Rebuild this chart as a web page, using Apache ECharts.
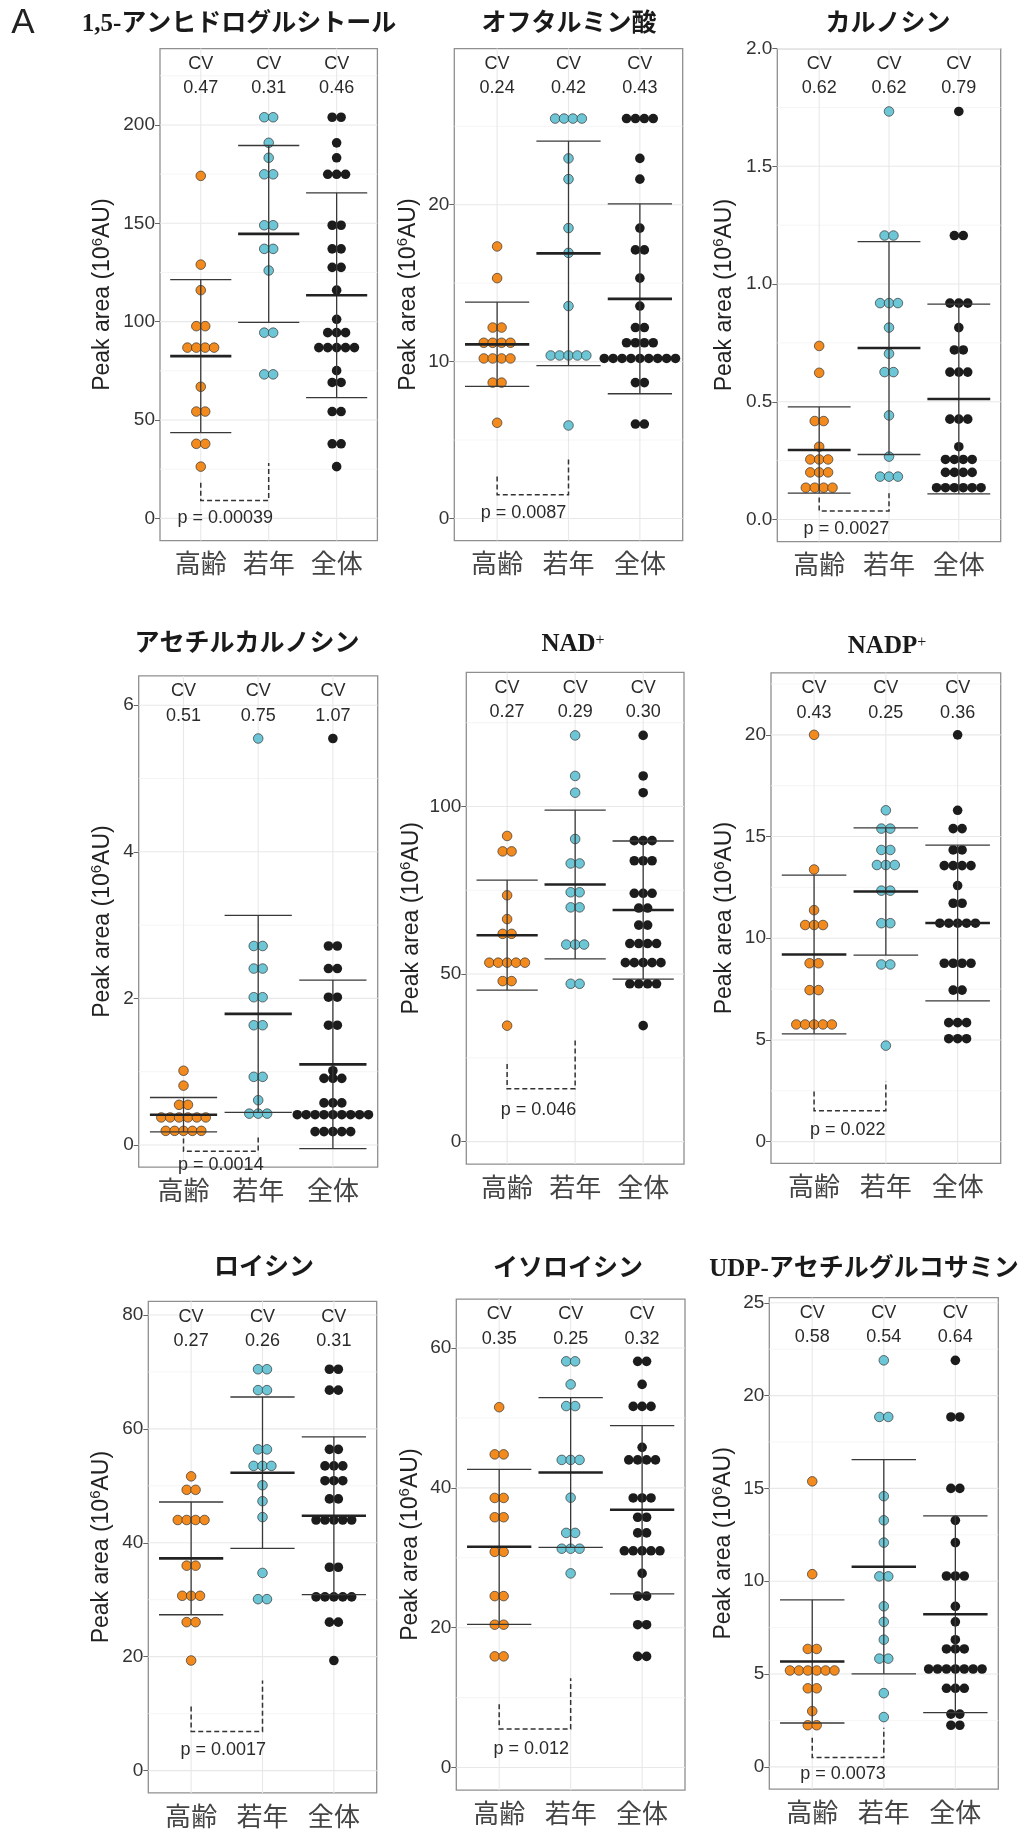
<!DOCTYPE html>
<html>
<head>
<meta charset="utf-8">
<script src="https://cdn.jsdelivr.net/npm/echarts@6.0.0/dist/echarts.min.js"></script>
<style>
  html, body { margin: 0; padding: 0; background: #fff; }
  #main { width: 1025px; height: 1833px; }
</style>
</head>
<body>
<div id="main"></div>
<script>
// 各群の名前と x 位置（ggplot の離散軸と同じ 0.6 / 1.6 / 2.6、範囲 0〜3.2）
var groups = ['高齢', '若年', '全体'];
var groupX = [0.6, 1.6, 2.6];

var titles = ['1,5-アンヒドログルシトール', 'オフタルミン酸', 'カルノシン', 'アセチルカルノシン',
  'NAD{sup|+}', 'NADP{sup|+}', 'ロイシン', 'イソロイシン', 'UDP-アセチルグルコサミン'];

// y軸の範囲と目盛り間隔
var yRange = [[-11.3, 238.8], [-1.41, 29.95], [-0.094, 2.0], [-0.303, 6.40], [-6.7, 140],
  [-1.07, 23.05], [-3.92, 82.4], [-3.24, 67.0], [-1.2, 25.28]];
var yStep = [50, 10, 0.5, 2, 50, 5, 20, 20, 5];

// ドット（値が同じものは横に並べる）
var oldDots = [
  [174.1, 129, 116, 97.7, 97.7, 86.8, 86.8, 86.8, 86.8, 66.9, 54.3, 54.3, 37.9, 37.9, 26.3],
  [17.34, 15.32, 12.17, 12.17, 11.2, 11.2, 11.2, 11.2, 10.2, 10.2, 10.2, 10.2, 8.66, 8.66, 6.1],
  [0.737, 0.623, 0.418, 0.418, 0.309, 0.255, 0.255, 0.255, 0.2, 0.2, 0.2, 0.135, 0.135, 0.135, 0.135],
  [1.013, 0.81, 0.548, 0.548, 0.376, 0.376, 0.376, 0.376, 0.376, 0.376, 0.193, 0.193, 0.193, 0.193, 0.193],
  [91.2, 86.6, 86.6, 73.5, 66.4, 62, 62, 53.4, 53.4, 53.4, 53.4, 53.4, 47.9, 47.9, 34.6],
  [20, 13.38, 11.38, 10.65, 10.65, 10.65, 8.77, 8.77, 7.45, 7.45, 5.76, 5.76, 5.76, 5.76, 5.76],
  [51.66, 49.3, 49.3, 44.0, 44.0, 44.0, 44.0, 35.98, 35.98, 30.69, 30.69, 30.69, 26.06, 26.06, 19.33],
  [51.54, 44.79, 44.79, 38.56, 38.56, 35.8, 35.8, 30.85, 30.85, 24.52, 24.52, 20.43, 20.43, 15.9, 15.9],
  [15.38, 10.38, 6.35, 6.35, 5.19, 5.19, 5.19, 5.19, 5.19, 5.19, 4.23, 4.23, 3.0, 2.24, 2.24]
];
var youngDots = [
  [203.9, 203.9, 190.9, 183.3, 174.9, 174.9, 149, 149, 137, 137, 126, 94.4, 94.4, 73.2, 73.2],
  [25.49, 25.49, 25.49, 25.49, 22.95, 21.63, 18.51, 16.93, 13.54, 10.39, 10.39, 10.39, 10.39, 10.39, 5.93],
  [1.733, 1.206, 1.206, 0.919, 0.919, 0.919, 0.815, 0.704, 0.626, 0.626, 0.442, 0.267, 0.182, 0.182, 0.182],
  [5.546, 2.715, 2.715, 2.407, 2.407, 2.016, 2.016, 1.634, 1.634, 0.93, 0.93, 0.611, 0.428, 0.428, 0.428],
  [121.2, 109.1, 104.1, 90.3, 83, 83, 74.4, 74.4, 69.9, 69.9, 58.8, 58.8, 58.8, 47.1, 47.1],
  [16.29, 15.39, 15.39, 14.34, 14.34, 13.6, 13.6, 13.6, 12.34, 12.34, 10.74, 10.74, 8.71, 8.71, 4.72],
  [70.47, 70.47, 66.8, 66.8, 56.4, 56.4, 53.5, 53.5, 53.5, 50.1, 47.3, 44.5, 34.7, 30.1, 30.1],
  [58.1, 58.1, 54.8, 51.7, 51.7, 44.0, 44.0, 44.0, 38.6, 33.56, 33.56, 31.3, 31.3, 31.3, 27.77],
  [21.9, 18.85, 18.85, 14.58, 13.28, 12.08, 10.26, 10.26, 8.65, 7.81, 6.85, 5.83, 5.83, 3.97, 2.68]
];
var allDots = [
  [203.9, 203.9, 190.9, 183.3, 174.9, 174.9, 174.9, 149, 149, 137, 137, 127.6, 127.6, 116, 101.2,
   94.4, 94.4, 94.4, 86.8, 86.8, 86.8, 86.8, 86.8, 75.1, 69.1, 69.1, 54.3, 54.3, 37.9, 37.9, 26.3],
  [25.49, 25.49, 25.49, 25.49, 22.95, 21.63, 18.51, 17.12, 17.12, 15.32, 13.54, 12.17, 12.17,
   11.2, 11.2, 11.2, 11.2, 10.2, 10.2, 10.2, 10.2, 10.2, 10.2, 10.2, 10.2, 10.2, 8.66, 8.66, 6.02, 6.02],
  [1.733, 1.206, 1.206, 0.919, 0.919, 0.919, 0.815, 0.72, 0.72, 0.626, 0.626, 0.626, 0.426, 0.426, 0.426,
   0.309, 0.255, 0.255, 0.255, 0.255, 0.2, 0.2, 0.2, 0.2, 0.135, 0.135, 0.135, 0.135, 0.135, 0.135],
  [5.546, 2.715, 2.715, 2.407, 2.407, 2.016, 2.016, 1.634, 1.634, 1.013, 0.909, 0.909, 0.909,
   0.574, 0.574, 0.574, 0.413, 0.413, 0.413, 0.413, 0.413, 0.413, 0.413, 0.413, 0.413,
   0.183, 0.183, 0.183, 0.183, 0.183],
  [121.2, 109.1, 104.1, 89.8, 89.8, 89.8, 83.8, 83.8, 83.8, 74.1, 74.1, 74.1, 69.7, 69.7, 64.6, 64.6,
   59.1, 59.1, 59.1, 59.1, 53.4, 53.4, 53.4, 53.4, 53.4, 47.1, 47.1, 47.1, 47.1, 34.6],
  [20, 16.29, 15.39, 15.39, 14.34, 14.34, 13.57, 13.57, 13.57, 13.57, 12.59, 11.72, 11.72,
   10.74, 10.74, 10.74, 10.74, 10.74, 8.77, 8.77, 8.77, 8.77, 7.45, 7.45, 5.85, 5.85, 5.85, 5.06, 5.06, 5.06],
  [70.47, 70.47, 66.8, 66.8, 56.4, 56.4, 53.5, 53.5, 53.5, 50.9, 50.9, 50.9, 47.7, 47.7,
   44.0, 44.0, 44.0, 44.0, 44.0, 35.7, 35.7, 30.5, 30.5, 30.5, 30.5, 30.5, 26.06, 26.06, 19.33],
  [58.1, 58.1, 54.8, 51.65, 51.65, 51.65, 45.8, 44.0, 44.0, 44.0, 44.0, 38.56, 38.56, 38.56, 35.8, 35.8,
   33.56, 33.56, 31.0, 31.0, 31.0, 31.0, 31.0, 27.77, 24.52, 24.52, 20.43, 20.43, 15.9, 15.9],
  [21.9, 18.85, 18.85, 15.0, 15.0, 13.28, 12.08, 10.28, 10.28, 10.28, 8.65, 7.81, 6.85, 6.35, 6.35, 6.35,
   5.27, 5.27, 5.27, 5.27, 5.27, 5.27, 5.27, 4.23, 4.23, 4.23, 2.84, 2.84, 2.24, 2.24]
];

// 平均と標準偏差（高齢, 若年, 全体）
var means = [[82.5, 144.6, 113.4], [11.1, 16.9, 14.0], [0.295, 0.728, 0.512], [0.413, 1.789, 1.10],
  [61.6, 76.7, 69.1], [9.2, 12.3, 10.75], [37.26, 52.3, 44.75], [31.57, 42.2, 36.87], [5.675, 10.78, 8.22]];
var sds = [[38.9, 44.95, 52.05], [2.685, 7.155, 6.05], [0.183, 0.452, 0.403], [0.235, 1.345, 1.15],
  [16.4, 22.2, 20.6], [3.9, 3.13, 3.83], [9.9, 13.3, 13.85], [11.09, 10.7, 12.03], [3.315, 5.77, 5.3]];
var cvs = [[0.47, 0.31, 0.46], [0.24, 0.42, 0.43], [0.62, 0.62, 0.79], [0.51, 0.75, 1.07], [0.27, 0.29, 0.30],
  [0.43, 0.25, 0.36], [0.27, 0.26, 0.31], [0.35, 0.25, 0.32], [0.58, 0.54, 0.64]];
var pValues = ['0.00039', '0.0087', '0.0027', '0.0014', '0.046', '0.022', '0.0017', '0.012', '0.0073'];
// 検定の括弧（左の上端, 底, 右の上端）
var brackets = [[18.1, 9.1, 28.2], [2.68, 1.51, 3.9], [0.093, 0.036, 0.112], [0.089, -0.084, 0.104],
  [23.2, 15.8, 30.9], [2.46, 1.52, 2.97], [11.23, 6.86, 15.8], [9.04, 5.53, 12.77], [1.56, 0.5, 2.1]];

// ---- レイアウト ----
var gridBox = [[160, 48.6, 217.4, 492], [454.3, 48.6, 228.4, 492], [777.3, 48.6, 223.4, 493],
  [138.7, 675.9, 239, 491.3], [466.3, 672.4, 217.7, 491.7], [771, 672.8, 229.7, 490.6],
  [148.3, 1301.3, 228.4, 491.6], [456.3, 1299.1, 228.7, 491.1], [769.3, 1297.6, 229, 491.5]];
var nameGap = [44, 33, 40, 23, 42, 33, 34, 33, 33];
var titlePos = [[239, 25], [569, 25], [888, 25], [247, 645], [573, 645], [887, 647],
  [264, 1269], [568, 1270], [864, 1270]];
var pTextPos = [[0.36, 0.0], [0.37, 0.37], [0.39, -0.042], [0.50, -0.277], [0.46, 9.5],
  [0.47, 0.56], [0.45, 3.6], [0.45, 2.6], [0.43, -0.4]];

var SANS = '"Liberation Sans", Arial, sans-serif';
var CJK = '"Noto Sans CJK JP", sans-serif';
var SERIF = '"Liberation Serif", "Noto Sans CJK JP", serif';
var colors = ['#F28A1E', '#6CC6D6', '#1c1c1c'];
var DOT = 9.6, DOT_STEP = 8.9;

function tickValues(i) {
  var r = yRange[i], st = yStep[i], out = [];
  for (var k = Math.ceil(r[0] / st - 1e-9); k * st <= r[1] + 1e-9; k++) out.push(+(k * st).toFixed(6));
  return out;
}

function dotItems(vals, x) {
  var counts = {}, order = [], out = [];
  vals.forEach(function (v) {
    if (!(v in counts)) { counts[v] = 0; order.push(v); }
    counts[v]++;
  });
  order.forEach(function (v) {
    var n = counts[v];
    for (var j = 0; j < n; j++) out.push({ value: [x, v], symbolOffset: [(j - (n - 1) / 2) * DOT_STEP, 0] });
  });
  return out;
}

var chart = echarts.init(document.getElementById('main'), null, { renderer: 'canvas' });
var grids = [], xAxes = [], yAxes = [], series = [], graphics = [];

for (let i = 0; i < 9; i++) {
  var g = gridBox[i];
  grids.push({ left: g[0], top: g[1], width: g[2], height: g[3], show: true,
    borderColor: '#8f8f8f', borderWidth: 1.3, backgroundColor: 'transparent' });

  xAxes.push({
    gridIndex: i, type: 'value', min: 0, max: 3.2,
    axisLine: { show: false }, axisTick: { show: false }, splitLine: { show: false },
    axisLabel: {
      customValues: groupX, margin: 10, fontFamily: CJK, fontSize: 26, color: '#444',
      formatter: function (v) {
        var k = v - 0.6;
        if (Math.abs(k - Math.round(k)) > 1e-6) return '';
        return groups[Math.round(k)] || '';
      }
    }
  });

  var ticks = tickValues(i);
  yAxes.push({
    gridIndex: i, type: 'value', min: yRange[i][0], max: yRange[i][1],
    name: '{n|Peak area (10}{s|6}{n|AU)}', nameLocation: 'middle', nameGap: nameGap[i], nameRotate: 90,
    nameTextStyle: {
      fontFamily: SANS, fontSize: 23, color: '#222',
      rich: {
        n: { fontFamily: SANS, fontSize: 23, color: '#222', lineHeight: 26 },
        s: { fontFamily: SANS, fontSize: 15, color: '#222', lineHeight: 14, verticalAlign: 'top' }
      }
    },
    axisLine: { show: false }, splitLine: { show: false },
    axisTick: { show: true, customValues: ticks, length: 5, lineStyle: { color: '#666', width: 1 } },
    axisLabel: {
      customValues: ticks, margin: 5, fontFamily: SANS, fontSize: 19, color: '#333',
      formatter: function (v) { return yStep[i] < 1 ? v.toFixed(1) : String(Math.round(v)); }
    }
  });

  // 背景のグリッド線
  series.push({
    type: 'custom', xAxisIndex: i, yAxisIndex: i, z: 1, silent: true, data: [[0, 0]],
    renderItem: function (params, api) {
      var r = yRange[i], half = yStep[i] / 2, ch = [];
      for (var k = Math.ceil(r[0] / half - 1e-9); k * half <= r[1] + 1e-9; k++) {
        var v = k * half, a = api.coord([0, v]), b = api.coord([3.2, v]);
        var major = Math.abs(k % 2) === 0;
        ch.push({ type: 'line', shape: { x1: a[0], y1: a[1], x2: b[0], y2: b[1] },
          style: { stroke: major ? '#e8e8e8' : '#f3f3f3', lineWidth: major ? 1.1 : 0.8 } });
      }
      groupX.forEach(function (x) {
        var a = api.coord([x, r[0]]), b = api.coord([x, r[1]]);
        ch.push({ type: 'line', shape: { x1: a[0], y1: a[1], x2: b[0], y2: b[1] },
          style: { stroke: '#e8e8e8', lineWidth: 1.1 } });
      });
      return { type: 'group', children: ch };
    }
  });

  // ドット
  [oldDots[i], youngDots[i], allDots[i]].forEach(function (vals, gi) {
    series.push({
      type: 'scatter', xAxisIndex: i, yAxisIndex: i, z: 3, silent: true,
      symbol: 'circle', symbolSize: DOT,
      itemStyle: { color: colors[gi], opacity: 1, borderColor: gi === 2 ? '#1c1c1c' : '#333',
        borderWidth: gi === 2 ? 0 : 0.7 },
      data: dotItems(vals, groupX[gi])
    });
  });

  // 平均 ± SD
  series.push({
    type: 'custom', xAxisIndex: i, yAxisIndex: i, z: 4, silent: true,
    data: groupX.map(function (x, gi) { return [x, means[i][gi], sds[i][gi]]; }),
    renderItem: function (params, api) {
      var x = api.value(0), m = api.value(1), s = api.value(2);
      var c = api.coord([x, m]), hi = api.coord([x, m + s]), lo = api.coord([x, m - s]);
      var hw = api.size([0.9, 0])[0] / 2;
      var st = { stroke: '#383838', lineWidth: 1.3 };
      return { type: 'group', children: [
        { type: 'line', shape: { x1: c[0], y1: hi[1], x2: c[0], y2: lo[1] }, style: st },
        { type: 'line', shape: { x1: c[0] - hw, y1: hi[1], x2: c[0] + hw, y2: hi[1] }, style: st },
        { type: 'line', shape: { x1: c[0] - hw, y1: lo[1], x2: c[0] + hw, y2: lo[1] }, style: st },
        { type: 'line', shape: { x1: c[0] - hw, y1: c[1], x2: c[0] + hw, y2: c[1] },
          style: { stroke: '#222', lineWidth: 2.6 } }
      ] };
    }
  });

  // CV ラベル
  series.push({
    type: 'custom', xAxisIndex: i, yAxisIndex: i, z: 5, silent: true,
    data: groupX.map(function (x, gi) { return [x, cvs[i][gi]]; }),
    renderItem: function (params, api) {
      var top = api.coord([api.value(0), yRange[i][1]]);
      return { type: 'text', x: top[0], y: top[1] + 3,
        style: { text: 'CV\n' + api.value(1).toFixed(2), align: 'center', verticalAlign: 'top',
          fontFamily: SANS, fontSize: 18, lineHeight: 24.5, fill: '#2a2a2a' } };
    }
  });

  // p 値の括弧
  series.push({
    type: 'custom', xAxisIndex: i, yAxisIndex: i, z: 5, silent: true, data: [[0, 0]],
    renderItem: function (params, api) {
      var b = brackets[i];
      var pts = [[groupX[0], b[0]], [groupX[0], b[1]], [groupX[1], b[1]], [groupX[1], b[2]]].map(function (p) {
        return api.coord(p);
      });
      var tp = api.coord([groupX[0] + pTextPos[i][0], pTextPos[i][1]]);
      return { type: 'group', children: [
        { type: 'polyline', shape: { points: pts },
          style: { stroke: '#333', lineWidth: 1.5, lineDash: [5, 3], fill: null } },
        { type: 'text', x: tp[0], y: tp[1],
          style: { text: 'p = ' + pValues[i], align: 'center', verticalAlign: 'middle',
            fontFamily: SANS, fontSize: 18, fill: '#2a2a2a' } }
      ] };
    }
  });

  graphics.push({
    type: 'text', x: titlePos[i][0], y: titlePos[i][1], silent: true,
    style: {
      text: titles[i], align: 'center', verticalAlign: 'middle',
      fontFamily: SERIF, fontWeight: 'bold', fontSize: 25, fill: '#1a1a1a',
      rich: {
        sup: { fontFamily: SERIF, fontWeight: 'normal', fontSize: 16, fill: '#1a1a1a', color: '#1a1a1a',
          lineHeight: 14, verticalAlign: 'top' }
      }
    }
  });
}

graphics.push({
  type: 'text', x: 23, y: 23, silent: true,
  style: { text: 'A', align: 'center', verticalAlign: 'middle', fontFamily: SANS, fontSize: 35, fill: '#222' }
});

chart.setOption({
  animation: false,
  backgroundColor: '#fff',
  grid: grids,
  xAxis: xAxes,
  yAxis: yAxes,
  series: series,
  graphic: graphics
});
</script>
</body>
</html>
